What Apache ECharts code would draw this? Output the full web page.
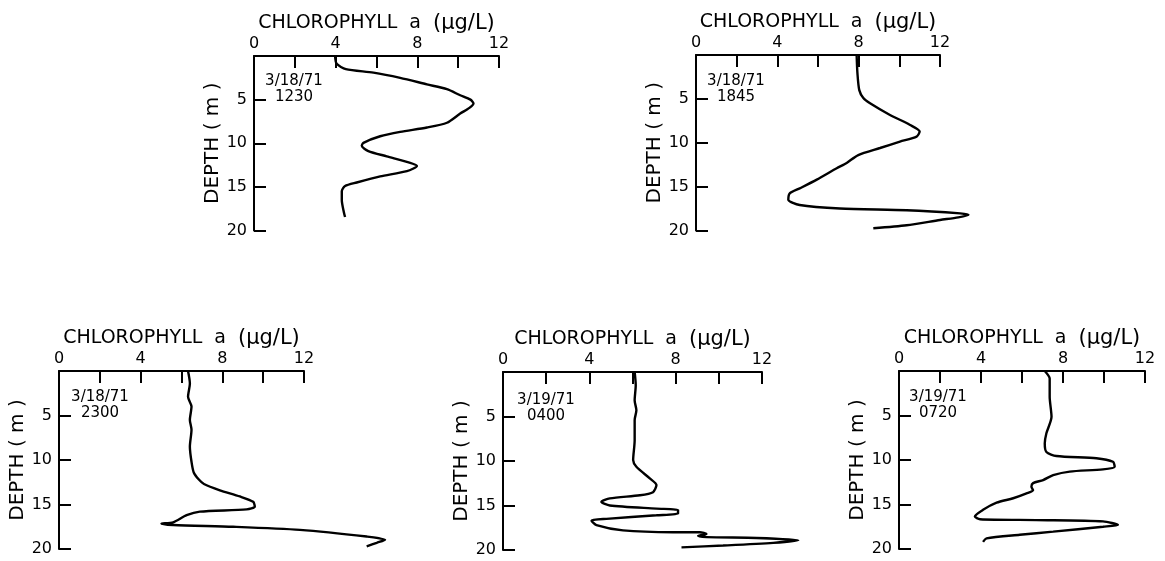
<!DOCTYPE html>
<html>
<head>
<meta charset="utf-8">
<script src="https://cdn.jsdelivr.net/npm/echarts@6/dist/echarts.min.js"></script>
<style>
  html, body { margin: 0; padding: 0; background: #fff; }
  #main { width: 1165px; height: 561px; }
</style>
</head>
<body>
<div id="main"></div>
<script>
// tick labels
const xLabels = [0, 4, 8, 12];
const yLabels = [5, 10, 15, 20];

// date / time stamps of each cast
const stamps = [
  ['3/18/71', '1230'],
  ['3/18/71', '1845'],
  ['3/18/71', '2300'],
  ['3/19/71', '0400'],
  ['3/19/71', '0720']
];

// profiles: chlorophyll a (ug/L) vs depth (m)
const chl1   = [3.97, 4.05, 4.5, 5.85, 7.16, 8.47, 9.45, 10.1, 10.6, 10.75, 10.55, 10.1, 9.45, 8.47, 7.16, 6.18, 5.36, 5.28, 5.6, 6.5, 7.65, 7.98, 7.49, 6.18, 5.03, 4.46, 4.3, 4.3, 4.41, 4.46];
const depth1 = [0, 0.9, 1.5, 1.9, 2.5, 3.25, 3.8, 4.5, 5.0, 5.45, 5.95, 6.6, 7.65, 8.2, 8.7, 9.2, 9.95, 10.3, 10.9, 11.5, 12.25, 12.6, 13.2, 13.8, 14.5, 14.9, 15.5, 16.5, 18.0, 18.45];

const chl2   = [7.9, 7.94, 8.03, 8.23, 8.56, 9.54, 10.53, 11.0, 10.85, 10.03, 9.05, 7.98, 7.41, 6.92, 5.94, 5.1, 4.62, 4.54, 5.1, 7.08, 10.36, 12.99, 13.4, 12.9, 12.0, 10.36, 8.72];
const depth2 = [0, 2.1, 4.0, 4.9, 5.5, 6.83, 7.97, 8.73, 9.3, 9.87, 10.6, 11.4, 12.3, 12.9, 14.2, 15.2, 15.75, 16.5, 17.1, 17.5, 17.7, 18.05, 18.2, 18.5, 18.8, 19.4, 19.75];

const chl3   = [6.32, 6.41, 6.32, 6.49, 6.41, 6.49, 6.41, 6.49, 6.6, 6.85, 7.1, 7.88, 8.86, 9.51, 9.59, 9.19, 6.9, 6.25, 5.59, 5.02, 5.59, 8.53, 11.8, 15.07, 15.97, 15.56, 15.07];
const depth3 = [0, 1.4, 2.9, 4.0, 5.5, 6.6, 8.5, 10.2, 11.4, 12.2, 12.7, 13.4, 14.1, 14.7, 15.25, 15.55, 15.8, 16.2, 17.0, 17.15, 17.3, 17.5, 17.85, 18.6, 18.95, 19.3, 19.7];

const chl4   = [6.1, 6.15, 6.1, 6.18, 6.1, 6.1, 6.03, 6.18, 6.8, 7.11, 6.95, 6.34, 4.95, 4.56, 4.95, 7.11, 8.11, 8.11, 7.11, 4.79, 4.1, 4.33, 5.56, 7.88, 9.12, 9.43, 9.04, 9.43, 11.75, 13.68, 12.52, 10.2, 8.27];
const depth4 = [0, 1.5, 3.2, 4.3, 5.4, 7.7, 9.9, 10.65, 11.95, 12.7, 13.5, 13.85, 14.2, 14.6, 15.0, 15.35, 15.5, 15.9, 16.1, 16.5, 16.7, 17.2, 17.8, 18.0, 18.0, 18.2, 18.4, 18.55, 18.65, 18.9, 19.2, 19.5, 19.7];

const chl5   = [7.11, 7.35, 7.35, 7.44, 7.19, 7.11, 7.19, 7.68, 9.63, 10.44, 10.52, 9.95, 8.33, 7.52, 7.03, 6.54, 6.46, 6.54, 6.22, 5.57, 4.76, 4.1, 3.7, 3.95, 6.7, 9.95, 10.68, 9.95, 7.52, 5.89, 4.27, 4.1];
const depth5 = [0, 0.85, 2.9, 5.15, 7.0, 8.15, 9.1, 9.55, 9.8, 10.2, 10.75, 11.05, 11.3, 11.7, 12.25, 12.6, 13.0, 13.4, 13.75, 14.3, 14.8, 15.6, 16.35, 16.65, 16.75, 16.9, 17.3, 17.5, 18.05, 18.4, 18.8, 19.2];

const profiles = [
  [chl1, depth1], [chl2, depth2], [chl3, depth3], [chl4, depth4], [chl5, depth5]
];

// panel placement (pixels)
const layout = [
  { left: 254, top: 56,  width: 245, height: 174.5, sx: 294, sy: 89 },
  { left: 696, top: 55,  width: 244, height: 175.5, sx: 736, sy: 89 },
  { left: 59,  top: 371, width: 245, height: 178,   sx: 100, sy: 405 },
  { left: 503, top: 372, width: 259, height: 178,   sx: 546, sy: 408 },
  { left: 899, top: 371, width: 246, height: 178,   sx: 938, sy: 405 }
];

const FONT = 'DejaVu Sans';
const ink = '#000';
const X_MAX = 12;
const N = layout.length;

const chart = echarts.init(document.getElementById('main'), null, { renderer: 'canvas' });

const grid = [], xAxis = [], yAxis = [], series = [], graphic = [];

// visible frames: axes 0..12 and 0..20
layout.forEach((p, i) => {
  grid.push({ left: p.left, top: p.top, width: p.width, height: p.height });

  xAxis.push({
    gridIndex: i,
    type: 'value',
    position: 'top',
    min: 0,
    max: X_MAX,
    interval: 2,
    name: '{t|CHLOROPHYLL}{a|a}{u|(μg/L)}',
    nameLocation: 'middle',
    nameGap: 22,
    nameTextStyle: {
      color: ink,
      fontFamily: FONT,
      rich: {
        t: { fontSize: 19, fontFamily: FONT, color: ink },
        a: { fontSize: 19, fontFamily: FONT, color: ink, padding: [0, 12, 0, 12] },
        u: { fontSize: 21, fontFamily: FONT, color: ink }
      }
    },
    axisLine: { show: true, lineStyle: { color: ink, width: 2 } },
    axisTick: { show: true, inside: true, length: 12, lineStyle: { color: ink, width: 2 } },
    axisLabel: {
      color: ink, fontFamily: FONT, fontSize: 16, margin: 4,
      formatter: v => xLabels.includes(v) ? String(v) : ''
    },
    splitLine: { show: false }
  });

  yAxis.push({
    gridIndex: i,
    type: 'value',
    inverse: true,
    min: 0,
    max: 20,
    interval: 5,
    name: 'DEPTH ( m )',
    nameLocation: 'middle',
    nameRotate: 90,
    nameGap: 30,
    nameTextStyle: { color: ink, fontFamily: FONT, fontSize: 20 },
    axisLine: { show: true, lineStyle: { color: ink, width: 2 } },
    axisTick: { show: true, inside: true, length: 12, lineStyle: { color: ink, width: 2 } },
    axisLabel: {
      color: ink, fontFamily: FONT, fontSize: 16, margin: 7,
      formatter: v => yLabels.includes(v) ? String(v) : ''
    },
    splitLine: { show: false }
  });

  graphic.push({
    type: 'text',
    x: p.sx,
    y: p.sy,
    style: {
      text: stamps[i].join('\n'),
      fill: ink,
      font: '15px "DejaVu Sans"',
      textAlign: 'center',
      textVerticalAlign: 'middle',
      lineHeight: 16
    }
  });
});

// hidden, wider frames with the same scale so the traces can run past 12
layout.forEach((p, i) => {
  const [chl, depth] = profiles[i];
  const xmax = Math.max(X_MAX, Math.ceil(Math.max(...chl)) + 1);
  const g = N + i;
  grid.push({ left: p.left, top: p.top, width: p.width * xmax / X_MAX, height: p.height });
  xAxis.push({ gridIndex: g, type: 'value', min: 0, max: xmax, show: false, splitLine: { show: false } });
  yAxis.push({ gridIndex: g, type: 'value', inverse: true, min: 0, max: 20, show: false, splitLine: { show: false } });

  series.push({
    type: 'line',
    xAxisIndex: g,
    yAxisIndex: g,
    data: chl.map((c, k) => [c, depth[k]]),
    showSymbol: false,
    smooth: 0.25,
    lineStyle: { color: ink, width: 2.4 },
    animation: false
  });
});

chart.setOption({
  backgroundColor: '#fff',
  animation: false,
  grid, xAxis, yAxis, series, graphic
});
</script>
</body>
</html>
